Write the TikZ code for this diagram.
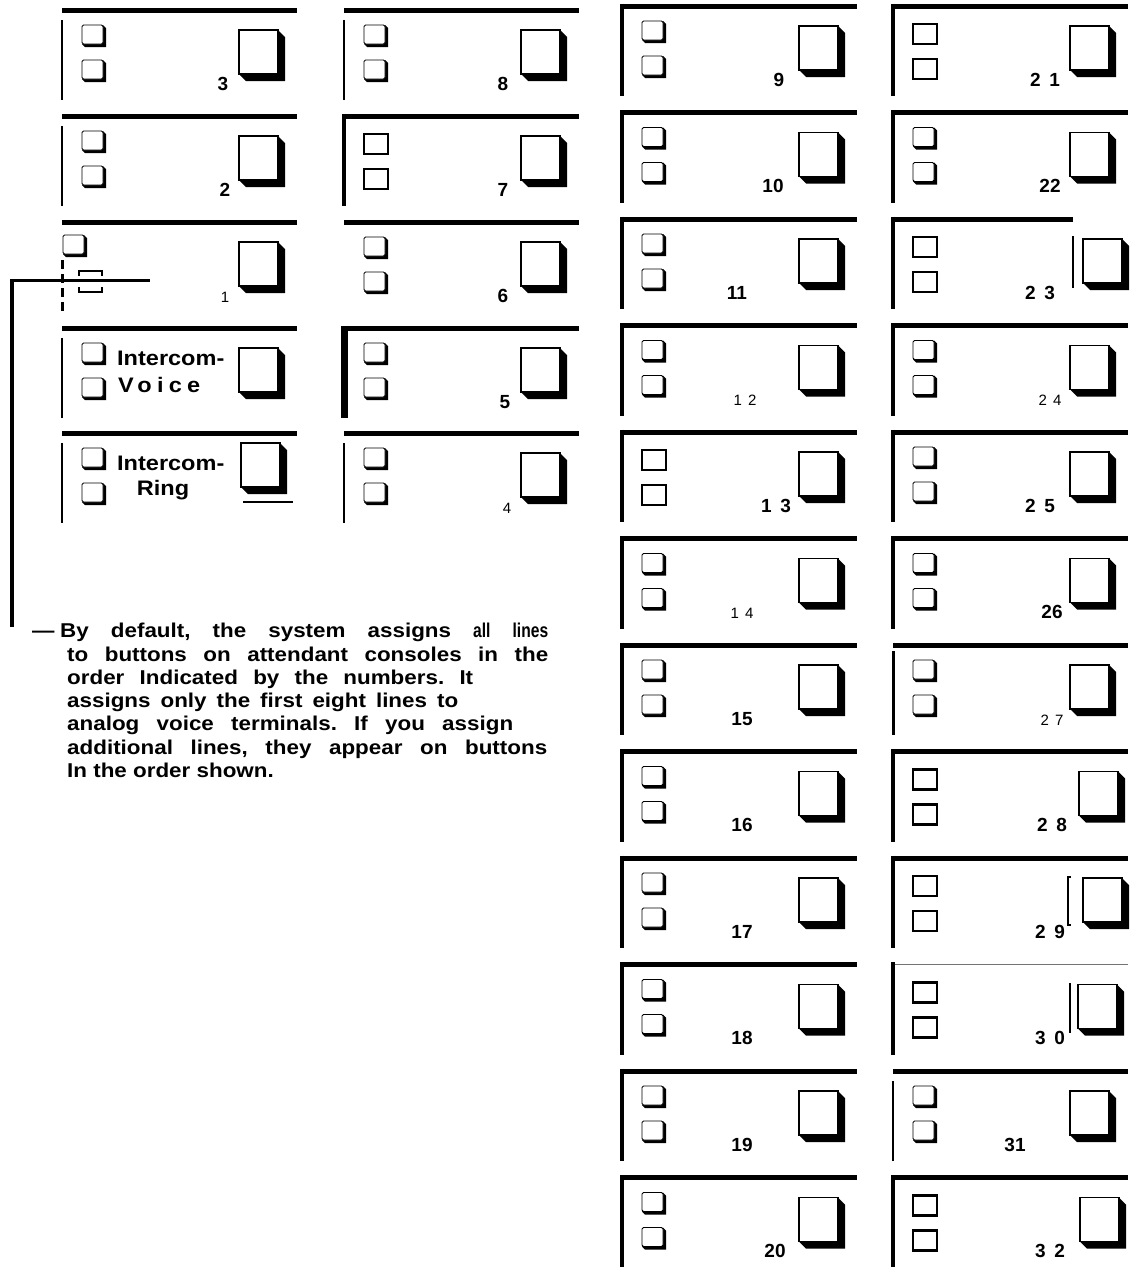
\documentclass[tikz,border=0pt]{standalone}
\usepackage{fontspec}
\setmainfont{Liberation Sans}
\usepackage{tikz}
\newfontfamily\widefamily[FakeStretch=1.12]{Liberation Sans}
\newfontfamily\narrowfamily[FakeStretch=0.78]{Liberation Sans}
\newfontfamily\lighttrack[LetterSpace=40]{Liberation Sans}
\newfontfamily\widetrack[LetterSpace=45]{Liberation Sans}
\newcommand{\keynumfont}{\fontsize{19}{19}\selectfont\bfseries}
\newcommand{\lightnumfont}{\lighttrack\fontsize{15}{15}\selectfont}
\newcommand{\spacednumfont}{\widetrack\fontsize{19}{19}\selectfont\bfseries}
\newcommand{\consolenotefont}{\widefamily\fontsize{20}{23.3}\selectfont\bfseries\frenchspacing}
\newcommand{\icomfont}{\widefamily\fontsize{21}{21}\selectfont\bfseries}

\tikzset{
	panelbar/.style={line width=5pt},
	faintbar/.style={line width=1.2pt, black!55},
	shortbar/.style={panelbar, shorten >=55pt},
	thinside/.style={line width=1.5pt, shorten <=10pt},
	medside/.style={line width=3pt, shorten <=6pt},
	thickside/.style={line width=4.5pt, shorten <=-2.5pt},
	heavyside/.style={line width=7pt, shorten <=-2.5pt},
	dashside/.style={line width=3pt, dash pattern=on 9pt off 5pt, shorten <=38pt},
	noside/.style={draw=none},
	keyface/.style={draw, fill=white, line width=0.9pt, rounded corners=1.5pt},
	keyshade/.style={fill=black},
	plainkey/.style={draw, line width=2.2pt},
	brokenkey/.style={line width=2.5pt},
	bigface/.style={draw, fill=white, line width=1.8pt},
	leader/.style={line width=3.5pt},
	boldnum/.style={font=\keynumfont, anchor=base, inner sep=0pt},
	lightnum/.style={font=\lightnumfont, anchor=base, inner sep=0pt},
	spacednum/.style={font=\spacednumfont, anchor=base, inner sep=0pt},
	icom/.style={font=\icomfont, inner sep=0pt},
	note/.style={font=\consolenotefont, align=left, inner sep=0pt}
}

% small key with its shadow, #1/#2 = top left of the face
\newcommand{\shadowkey}[2]{%
	\fill[keyshade] (#1+21,#2) -- ++(3,3) -- ++(0,19) -- ++(-21,0) -- ++(-3,-3) -- cycle;
	\draw[keyface] (#1,#2) rectangle ++(21,19);}
\newcommand{\shadowkeys}{\shadowkey{20}{15}\shadowkey{20}{50}}
\newcommand{\plainkeys}{%
	\draw[plainkey] (20,18) rectangle ++(24,20);
	\draw[plainkey] (20,53) rectangle ++(24,20);}
\newcommand{\brokenkeys}{%
	\shadowkey{1}{13}
	\draw[brokenkey] (17,54) |- (40,49) -- (40,54);
	\draw[brokenkey] (17,65) |- (40,70) -- (40,65);}
% big line key, #1/#2 = top left of the face
\newcommand{\bigkey}[2]{%
	\fill[keyshade] (#1+39,#2) -- ++(7,7) -- ++(0,44) -- ++(-39,0) -- ++(-7,-7) -- cycle;
	\draw[bigface] (#1,#2) rectangle ++(39,44);}
% one button panel: x, y, side, small keys, bar, big key x and y
\newcommand{\keypanel}[7]{%
	\begin{scope}[shift={(#1,#2)}]
		\draw[#5] (0,0) -- (235,0);
		\draw[#3] (0,0) -- (0,90);
		\csname #4\endcsname
		\bigkey{#6}{#7}
	\end{scope}}

\begin{document}
\begin{tikzpicture}[x=1pt, y=-1pt]
	\fill[white] (0,0) rectangle (1132,1267);
	\useasboundingbox (0,0) rectangle (1132,1267);
	% numbered line buttons
	\foreach \cx/\cy/\sd/\ks/\bs/\bx/\lx/\lf/\nm in {
		62/10/thinside/shadowkeys/panelbar/177/161/boldnum/3,
		62/116/thinside/shadowkeys/panelbar/177/163/boldnum/2,
		62/222/dashside/brokenkeys/panelbar/177/163/lightnum/1,
		344/10/thinside/shadowkeys/panelbar/177/159/boldnum/8,
		344/116/thickside/plainkeys/panelbar/177/159/boldnum/7,
		344/222/noside/shadowkeys/panelbar/177/159/boldnum/6,
		344/328/heavyside/shadowkeys/panelbar/177/161/boldnum/5,
		344/433/thinside/shadowkeys/panelbar/177/163/lightnum/4,
		622/6/thickside/shadowkeys/panelbar/177/157/boldnum/9,
		622/112.5/thickside/shadowkeys/panelbar/177/151/boldnum/10,
		622/219/thickside/shadowkeys/panelbar/177/115/boldnum/11,
		622/325.5/thickside/shadowkeys/panelbar/177/123/lightnum/12,
		622/432/thickside/plainkeys/panelbar/177/154/spacednum/13,
		622/538.5/thickside/shadowkeys/panelbar/177/120/lightnum/14,
		622/645/thickside/shadowkeys/panelbar/177/120/boldnum/15,
		622/751.5/thickside/shadowkeys/panelbar/177/120/boldnum/16,
		622/858/thickside/shadowkeys/panelbar/177/120/boldnum/17,
		622/964.5/thickside/shadowkeys/panelbar/177/120/boldnum/18,
		622/1071/thickside/shadowkeys/panelbar/177/120/boldnum/19,
		622/1177.5/thickside/shadowkeys/panelbar/177/153/boldnum/20,
		893/6/thickside/plainkeys/panelbar/177/152/spacednum/21,
		893/112.5/thickside/shadowkeys/panelbar/177/157/boldnum/22,
		893/219/thickside/plainkeys/shortbar/190/147/spacednum/23,
		893/325.5/thickside/shadowkeys/panelbar/177/157/lightnum/24,
		893/432/thickside/shadowkeys/panelbar/177/147/spacednum/25,
		893/538.5/thickside/shadowkeys/panelbar/177/159/boldnum/26,
		893/645/medside/shadowkeys/panelbar/177/159/lightnum/27,
		893/751.5/thickside/plainkeys/panelbar/186/159/spacednum/28,
		893/858/thickside/plainkeys/panelbar/190/157/spacednum/29,
		893/964.5/thickside/plainkeys/faintbar/185/157/spacednum/30,
		893/1071/thinside/shadowkeys/panelbar/177/122/boldnum/31,
		893/1177.5/thickside/plainkeys/panelbar/187/157/spacednum/32}
	{
		\keypanel{\cx}{\cy}{\sd}{\ks}{\bs}{\bx}{20}
		\node[\lf] (key\nm) at (\cx+\lx,\cy+80) {\nm};
	}
	% intercom buttons
	\keypanel{62}{328}{thinside}{shadowkeys}{panelbar}{177}{20}
	\keypanel{62}{433}{thinside}{shadowkeys}{panelbar}{179}{10}
	\node[icom, anchor=base west] (icvtop) at (117,365.5) {Intercom-};
	\node[icom, anchor=base west] (icvbot) at (118,392.5) {\addfontfeatures{LetterSpace=25}Voice};
	\node[icom, anchor=base west] (icrtop) at (117,470.5) {Intercom-};
	\node[icom, anchor=base] (icrbot) at (163,495.5) {Ring};
	\draw[line width=2.5pt] (243,502) -- (293,502);
	% odd marks beside big keys 23, 29, 30
	\draw[line width=1.5pt] (1073,236) -- (1073,288);
	\draw[line width=1.5pt] (1071,877) -| (1068,925) -- (1071,925);
	\draw[line width=1.5pt] (1070,983) -- (1070,1033);
	% leader to the note
	\coordinate (leadtip) at (150,280.5);
	\coordinate (leadfoot) at (12,627);
	\draw[leader] (leadtip) -| (leadfoot);
	\node[note, anchor=north west] (note) at (32,623) {%
		\makebox[28pt][l]{—}\makebox[488pt][s]{By default, the system assigns {\narrowfamily all} {\narrowfamily lines}}\\
		\hspace*{35pt}\makebox[481pt][s]{to buttons on attendant consoles in the}\\
		\hspace*{35pt}\makebox[406pt][s]{order Indicated by the numbers. It}\\
		\hspace*{35pt}\makebox[391pt][s]{assigns only the first eight lines to}\\
		\hspace*{35pt}\makebox[446pt][s]{analog voice terminals. If you assign}\\
		\hspace*{35pt}\makebox[480pt][s]{additional lines, they appear on buttons}\\
		\hspace*{35pt}In the order shown.};
\end{tikzpicture}
\end{document}
